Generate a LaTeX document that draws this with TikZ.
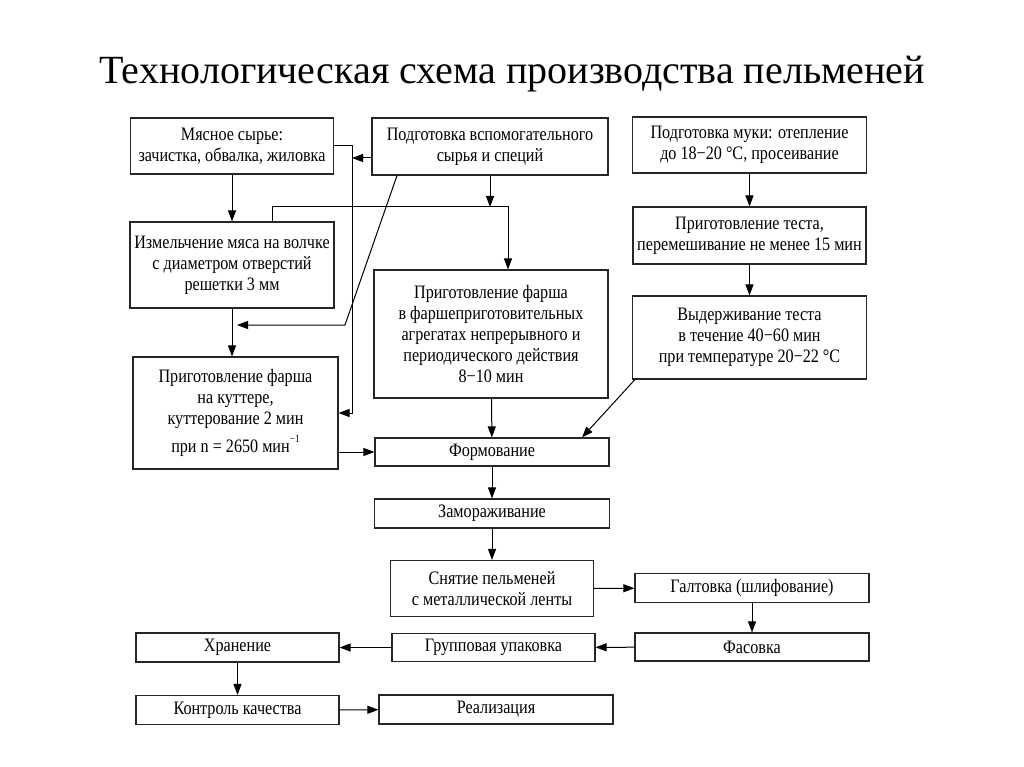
\documentclass[tikz,border=0pt]{standalone}
\usepackage{fontspec}
\setmainfont{Liberation Serif}
\newfontfamily\boxfont{Liberation Serif}[FakeStretch=0.85]
\usetikzlibrary{ % tikz packages
    positioning,
    arrows.meta
}
\tikzset{stage/.style={
    draw=black!85,
    line width=1.1pt,
    align=center,
    inner sep=0pt,
    font={\boxfont\fontsize{19}{21}\selectfont}
}}
\tikzset{wh/.style 2 args={minimum width=#1pt,minimum height=#2pt}}
\tikzset{>={Triangle[length=11pt,width=8pt]}}
\newcommand{\minusOne}{\raisebox{10pt}{\fontsize{11}{11}\selectfont −1}}

\begin{document}
\begin{tikzpicture}[x=1pt,y=-1pt,line width=1pt]
        \fill[white] (0,0) rectangle (1024,767);
        \useasboundingbox (0,0) rectangle (1024,767);

        \node[anchor=base,font=\fontsize{40}{48}\selectfont] (title) at (512,84)
            {Технологическая схема производства пельменей};

        % top row
        \node[stage,wh={203}{56}] (meat) at (232,146) {Мясное сырье:\\зачистка, обвалка, жиловка};
        \node[stage,wh={236}{57}] (aux) at (490,146.5) {Подготовка вспомогательного\\сырья и специй};
        \node[stage,wh={234}{56}] (flour) at (749.5,145) {Подготовка муки: отепление\\до 18−20 °C, просеивание};

        \node[stage,wh={204}{86}] (grind) at (232,265) {Измельчение мяса на волчке\\с диаметром отверстий\\решетки 3 мм};
        \node[stage,wh={233}{57}] (dough) at (749.5,235.5) {Приготовление теста,\\перемешивание не менее 15 мин};
        \node[stage,wh={234}{128}] (unit) at (491,334) {Приготовление фарша\\в фаршеприготовительных\\агрегатах непрерывного и\\периодического действия\\8−10 мин};
        \node[stage,wh={234}{83}] (rest) at (749.5,337.5) {Выдерживание теста\\в течение 40−60 мин\\при температуре 20−22 °C};
        \node[stage,wh={205}{112}] (cutter) at (235.5,413) {Приготовление фарша\\на куттере,\\куттерование 2 мин\\[5pt]при n = 2650 мин\minusOne};

        % main line
        \node[stage,wh={234}{28}] (form) at (492,452) {Формование};
        \node[stage,wh={235}{29}] (freeze) at (492,513.5) {Замораживание};
        \node[stage,wh={203}{56}] (remove) at (492,588.5) {Снятие пельменей\\с металлической ленты};
        \node[stage,wh={234}{29}] (polish) at (752,588) {Галтовка (шлифование)};
        \node[stage,wh={234}{28}] (pack) at (752,647) {Фасовка};
        \node[stage,wh={203}{28}] (group) at (493.5,647.5) {Групповая упаковка};
        \node[stage,wh={203}{29}] (store) at (237.5,647.5) {Хранение};
        \node[stage,wh={203}{29}] (control) at (237.5,710) {Контроль качества};
        \node[stage,wh={234}{29}] (sale) at (496,709.5) {Реализация};

        \coordinate (spine) at (352,158);
        \coordinate (split) at (508,207);
        \coordinate (bend) at (345,325);

        \draw[->] (meat.east) -- (meat.east -| spine) |- (cutter.east);
        \draw[->] (aux.west |- spine) -- (spine);
        \draw[->] (aux) -- (aux.south |- split);
        \draw[->] ([xshift=40pt]grind.north) |- (split) -- (unit.north -| split);
        \draw[->] ([xshift=-93pt]aux.south) -- (bend) -- ([xshift=5pt]bend -| grind.south);
        \draw[->] (grind.south) -- (grind.south |- cutter.north);
        \draw[->] (cutter.east |- form) -- (form.west);
        \draw[->] ([xshift=3pt]rest.south west) -- ([xshift=90pt]form.north);

        \path[->]
            (meat)
                edge (grind)
            (flour)
                edge (dough)
            (dough)
                edge (rest)
            (unit)
                edge (form)
            (form)
                edge (freeze)
            (freeze)
                edge (remove)
            (remove)
                edge (polish)
            (polish)
                edge (pack)
            (pack)
                edge (group)
            (group)
                edge (store)
            (store)
                edge (control)
            (control)
                edge (sale);
\end{tikzpicture}
\end{document}
